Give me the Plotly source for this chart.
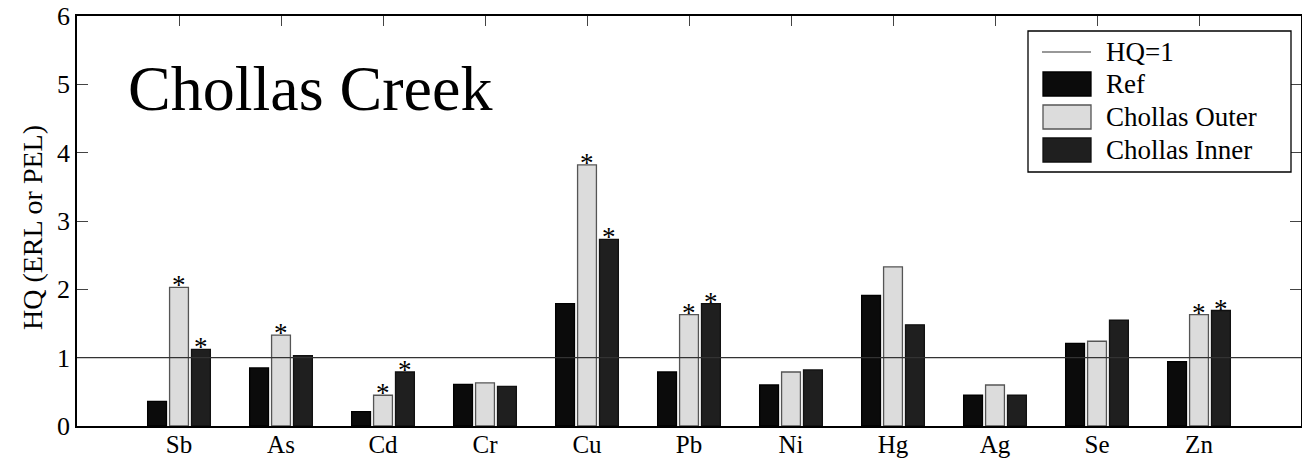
import plotly.graph_objects as go

# ---------------- data ----------------
elements = ["Sb", "As", "Cd", "Cr", "Cu", "Pb", "Ni", "Hg", "Ag", "Se", "Zn"]
ref_vals = [0.36, 0.85, 0.21, 0.61, 1.79, 0.79, 0.60, 1.91, 0.45, 1.21, 0.94]
outer_vals = [2.03, 1.33, 0.45, 0.63, 3.82, 1.63, 0.79, 2.33, 0.60, 1.24, 1.63]
inner_vals = [1.12, 1.03, 0.79, 0.58, 2.73, 1.79, 0.82, 1.48, 0.45, 1.55, 1.69]
outer_sig = [1, 1, 1, 0, 1, 1, 0, 0, 0, 0, 1]
inner_sig = [1, 0, 1, 0, 1, 1, 0, 0, 0, 0, 1]
hq_threshold = 1
y_ticks = [0, 1, 2, 3, 4, 5, 6]

series_names = ["Ref", "Chollas Outer", "Chollas Inner"]
FONT = "Liberation Serif"
W, H = 1302, 463
ML, MR, MT, MB = 77, 1, 16, 37
PW, PH = W - ML - MR, H - MT - MB

fills = ["#0b0b0b", "#dcdcdc", "#1f1f1f"]
outlines = ["#000000", "#555555", "#111111"]

fig = go.Figure()
for name, vals, fc, lc in zip(series_names, [ref_vals, outer_vals, inner_vals], fills, outlines):
    fig.add_trace(go.Bar(
        x=elements, y=vals, name=name,
        marker=dict(color=fc, line=dict(color=lc, width=1.3)),
        showlegend=False,
    ))

# HQ = 1 reference line
fig.add_shape(type="line", xref="paper", x0=0, x1=1, yref="y",
              y0=hq_threshold, y1=hq_threshold,
              line=dict(color="#333333", width=1.2), layer="above")

# significance asterisks
bargap, n_tr = 0.355, 3
slot = (1 - bargap) / n_tr
for ti, sig in [(1, outer_sig), (2, inner_sig)]:
    vals = [ref_vals, outer_vals, inner_vals][ti]
    for i, s in enumerate(sig):
        if s:
            fig.add_annotation(x=i + (ti - 1) * slot, y=vals[i], xref="x", yref="y",
                               text="*", showarrow=False, yanchor="bottom",
                               yshift=-15, font=dict(family=FONT, size=27, color="#000"))

def px_x(px):
    return (px - ML) / PW

def px_y(py):
    return (H - MB - py) / PH

# chart title inside plot
fig.add_annotation(x=px_x(126), y=px_y(88), xref="paper", yref="paper",
                   text="Chollas Creek", showarrow=False, xanchor="left", yanchor="middle",
                   font=dict(family=FONT, size=64, color="#000"))

# manual legend
fig.add_shape(type="rect", xref="paper", yref="paper",
              x0=px_x(1028), x1=px_x(1291), y0=px_y(172), y1=px_y(31),
              line=dict(color="#000", width=1.3), fillcolor="white", layer="above")
fig.add_shape(type="line", xref="paper", yref="paper",
              x0=px_x(1042), x1=px_x(1091), y0=px_y(52), y1=px_y(52),
              line=dict(color="#333333", width=1.2), layer="above")
leg_rows = [(84, 0), (117, 1), (150, 2)]
for cy, k in leg_rows:
    fig.add_shape(type="rect", xref="paper", yref="paper",
                  x0=px_x(1043), x1=px_x(1091), y0=px_y(cy + 12), y1=px_y(cy - 12),
                  line=dict(color=outlines[k], width=1.3), fillcolor=fills[k], layer="above")
for cy, txt in [(52, "HQ=1"), (84, "Ref"), (117, "Chollas Outer"), (150, "Chollas Inner")]:
    fig.add_annotation(x=px_x(1104), y=px_y(cy), xref="paper", yref="paper",
                       text=txt, showarrow=False, xanchor="left", yanchor="middle",
                       font=dict(family=FONT, size=27, color="#000"))

# y-axis title (placed slightly below plot centre as in the reference)
fig.add_annotation(x=px_x(32), y=px_y(228), xref="paper", yref="paper",
                   text="HQ (ERL or PEL)", showarrow=False, textangle=-90,
                   xanchor="center", yanchor="middle",
                   font=dict(family=FONT, size=28, color="#000"))

fig.update_layout(
    width=W, height=H,
    margin=dict(l=ML, r=MR, t=MT, b=MB, autoexpand=False),
    paper_bgcolor="white", plot_bgcolor="white",
    barmode="group", bargap=bargap, bargroupgap=0.14,
    font=dict(family=FONT, size=26, color="#000"),
    showlegend=False,
)
fig.update_xaxes(
    range=[-1, 11], showgrid=False, zeroline=False,
    showline=True, linecolor="#000", linewidth=1.5, mirror="ticks",
    ticks="inside", ticklen=10, tickcolor="#444", tickwidth=1,
    layer="below traces", ticklabelstandoff=-5,
    tickfont=dict(family=FONT, size=25, color="#000"),
)
fig.update_yaxes(
    range=[0, 6], tickvals=y_ticks, showgrid=False, zeroline=False,
    showline=True, linecolor="#000", linewidth=1.5, mirror="ticks",
    ticks="inside", ticklen=11, tickcolor="#444", tickwidth=1,
    tickfont=dict(family=FONT, size=26, color="#000"),
)

fig.write_html("out.html")
